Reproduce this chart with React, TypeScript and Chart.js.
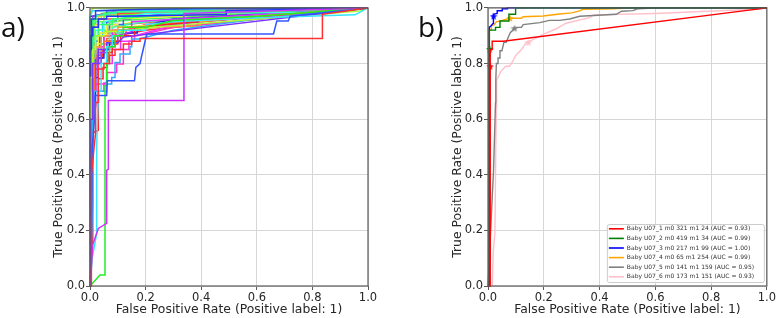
import React, { useEffect, useRef } from "react";
import { Chart, registerables } from "chart.js";

Chart.register(...registerables);

type P = [number, number];

// ---------- shared axis text ----------
const axisTicks = [0, 0.2, 0.4, 0.6, 0.8, 1.0];
const xTitle = "False Positive Rate (Positive label: 1)";
const yTitle = "True Positive Rate (Positive label: 1)";

// ---------- panel a: many ROC curves (fpr, tpr) ----------
const aCurves: P[][] = [
  [[0,0],[0.005,0],[0.005,0.4],[0.02,0.55],[0.02,0.66],[0.03,0.66],[0.03,0.78],[0.05,0.78],[0.05,0.8],[0.07,0.8],[0.07,0.83],[0.09,0.83],[0.09,0.85],[0.12,0.85],[0.12,0.87],[0.15,0.87],[0.15,0.88],[0.18,0.88],[0.18,0.89],[0.836,0.89],[0.836,0.977],[1,1]],
  [[0,0],[0.01,0.15],[0.03,0.207],[0.06,0.225],[0.06,0.416],[0.066,0.42],[0.066,0.667],[0.338,0.667],[0.338,0.98],[1,1]],
  [[0,0],[0.004,0.1],[0.008,0.5],[0.018,0.62],[0.018,0.685],[0.06,0.685],[0.062,0.738],[0.16,0.738],[0.165,0.786],[0.18,0.8],[0.186,0.828],[0.2,0.888],[0.205,0.906],[0.66,0.906],[0.672,0.953],[0.713,0.953],[0.72,0.97],[1,1]],
  [[0,0],[0.036,0.04],[0.054,0.04],[0.054,0.72],[0.06,0.72],[0.06,0.8],[0.07,0.8],[0.07,0.86],[0.09,0.86],[0.09,0.9],[0.12,0.9],[0.12,0.93],[0.2,0.93],[0.3,0.955],[0.6,0.97],[1,1]],
  [[0,0],[0.008,0.1],[0.024,0.19],[0.024,0.5],[0.03,0.7],[0.04,0.7],[0.04,0.8],[0.06,0.8],[0.06,0.86],[0.08,0.86],[0.08,0.9],[0.1,0.9],[0.1,0.92],[0.2,0.92],[0.2,0.94],[0.3,0.95],[0.6,0.965],[0.953,0.975],[1,1]],
  [[0,0],[0.003,0],[0.003,0.6],[0.01,0.6],[0.01,0.8],[0.03,0.8],[0.03,0.85],[0.06,0.85],[0.06,0.875],[0.1,0.875],[0.12,0.895],[1,1]],
  [[0,0],[0.002,0.5],[0.002,0.75],[0.01,0.75],[0.01,0.85],[0.02,0.85],[0.02,0.9],[0.05,0.9],[0.05,0.915],[0.1,0.915],[0.25,0.932],[0.97,0.989],[1,1]],
  [[0,0],[0.01,0.3],[0.01,0.6],[0.015,0.6],[0.015,0.7],[0.06,0.7],[0.06,0.726],[0.078,0.726],[0.078,0.75],[0.09,0.75],[0.09,0.804],[0.108,0.804],[0.108,0.834],[0.144,0.834],[0.144,0.86],[0.15,0.86],[0.15,0.888],[0.174,0.888],[0.204,0.895],[0.3,0.92],[0.6,0.96],[1,1]],
  [[0,0],[0.005,0.4],[0.005,0.7],[0.01,0.7],[0.01,0.82],[0.02,0.82],[0.02,0.86],[0.04,0.86],[0.04,0.9],[0.07,0.9],[0.07,0.92],[0.1,0.92],[0.1,0.93],[0.15,0.93],[0.396,0.935],[0.396,0.95],[0.6,0.97],[1,1]],
  [[0,0],[0.004,0.5],[0.004,0.65],[0.01,0.65],[0.01,0.7],[0.02,0.7],[0.02,0.726],[0.06,0.726],[0.06,0.768],[0.096,0.768],[0.096,0.798],[0.12,0.798],[0.12,0.85],[0.14,0.85],[0.14,0.88],[0.15,0.88],[0.15,0.9],[0.17,0.9],[0.3,0.93],[1,1]],
  [[0,0],[0.01,0.55],[0.03,0.56],[0.03,0.745],[0.047,0.745],[0.047,0.786],[0.06,0.786],[0.06,0.81],[0.065,0.81],[0.065,0.84],[0.08,0.84],[0.08,0.86],[0.09,0.86],[0.09,0.88],[0.11,0.88],[0.11,0.9],[0.16,0.9],[0.16,0.93],[0.5,0.96],[1,1]],
  [[0,0],[0.002,0.7],[0.002,0.85],[0.005,0.85],[0.005,0.9],[0.01,0.9],[0.01,0.93],[0.03,0.93],[0.03,0.96],[0.06,0.96],[0.06,0.97],[0.1,0.97],[0.49,0.976],[0.49,0.99],[1,1]],
  [[0,0],[0.001,0.9],[0.005,0.9],[0.005,0.96],[0.02,0.96],[0.02,0.99],[0.2,0.995],[0.45,0.998],[1,1]],
  [[0,0],[0.003,0.8],[0.01,0.8],[0.01,0.9],[0.03,0.9],[0.03,0.94],[0.08,0.94],[0.08,0.96],[0.3,0.975],[1,1]],
  [[0,0],[0.002,0.3],[0.004,0.7],[0.01,0.7],[0.01,0.88],[0.02,0.88],[0.02,0.92],[0.05,0.92],[0.05,0.95],[0.2,0.98],[0.9,0.985],[1,1]],
  [[0,0],[0.003,0.75],[0.01,0.75],[0.01,0.86],[0.03,0.86],[0.03,0.9],[0.06,0.9],[0.06,0.94],[0.1,0.94],[0.1,0.96],[0.3,0.97],[0.7,0.99],[1,1]],
  [[0,0],[0.001,0.9],[0.006,0.9],[0.006,0.95],[0.02,0.95],[0.02,0.97],[0.1,0.985],[0.5,0.99],[1,1]],
  [[0,0],[0.004,0.65],[0.015,0.65],[0.015,0.8],[0.03,0.8],[0.03,0.85],[0.05,0.85],[0.05,0.88],[0.09,0.88],[0.09,0.92],[0.25,0.93],[0.25,0.94],[0.3,0.945],[1,1]],
  [[0,0],[0.005,0.6],[0.01,0.6],[0.01,0.75],[0.02,0.75],[0.02,0.8],[0.04,0.8],[0.04,0.84],[0.06,0.84],[0.06,0.86],[0.08,0.86],[0.08,0.88],[0.1,0.88],[0.1,0.9],[0.2,0.93],[0.4,0.95],[1,1]],
  [[0,0],[0.007,0.48],[0.012,0.52],[0.012,0.64],[0.02,0.64],[0.02,0.66],[0.03,0.66],[0.03,0.7],[0.05,0.7],[0.05,0.73],[0.06,0.73],[0.06,0.8],[0.08,0.8],[0.08,0.85],[0.11,0.85],[0.11,0.88],[0.16,0.88],[0.16,0.9],[0.35,0.95],[1,1]],
  [[0,0],[0.002,0.85],[0.01,0.85],[0.01,0.93],[0.03,0.93],[0.03,0.96],[0.1,0.96],[0.1,0.98],[0.4,0.99],[1,1]],
  [[0,0],[0.001,0.6],[0.003,0.88],[0.015,0.88],[0.015,0.95],[0.05,0.95],[0.05,0.97],[0.2,0.98],[1,1]],
  [[0,0],[0.004,0.8],[0.02,0.8],[0.02,0.88],[0.04,0.88],[0.04,0.9],[0.07,0.9],[0.07,0.94],[0.12,0.94],[0.12,0.96],[0.25,0.975],[0.5,0.98],[1,1]],
  [[0,0],[0,0.97],[0.01,0.99],[1,1]],
  [[0,0],[0.006,0.7],[0.02,0.7],[0.02,0.82],[0.03,0.82],[0.03,0.86],[0.05,0.86],[0.05,0.9],[0.08,0.9],[0.08,0.92],[0.15,0.92],[0.15,0.95],[0.5,0.97],[1,1]],
  [[0,0],[0.003,0.78],[0.008,0.78],[0.008,0.84],[0.02,0.84],[0.02,0.87],[0.04,0.87],[0.04,0.9],[0.1,0.9],[0.1,0.93],[0.25,0.94],[0.9,0.99],[1,1]],
  [[0,0],[0.004,0.72],[0.015,0.72],[0.015,0.78],[0.03,0.78],[0.03,0.84],[0.06,0.84],[0.06,0.88],[0.09,0.88],[0.09,0.9],[0.13,0.9],[0.13,0.92],[0.2,0.94],[1,1]],
  [[0,0],[0,0.5],[0.005,0.92],[0.01,0.92],[0.01,0.96],[0.05,0.96],[0.05,0.98],[0.15,0.99],[1,1]],
  [[0,0],[0.003,0.55],[0.008,0.55],[0.008,0.65],[0.02,0.65],[0.02,0.75],[0.03,0.75],[0.03,0.82],[0.05,0.82],[0.05,0.85],[0.07,0.85],[0.07,0.88],[0.09,0.88],[0.09,0.9],[0.13,0.9],[0.13,0.91],[0.17,0.91],[0.17,0.93],[0.3,0.96],[1,1]],
  [[0,0],[0.002,0.9],[0.008,0.9],[0.008,0.94],[0.03,0.94],[0.03,0.97],[0.15,0.98],[0.3,0.985],[1,1]],
  [[0,0],[0.005,0.62],[0.01,0.62],[0.01,0.72],[0.02,0.72],[0.02,0.8],[0.04,0.8],[0.04,0.87],[0.07,0.87],[0.07,0.91],[0.12,0.91],[0.12,0.94],[0.3,0.96],[0.8,0.98],[1,1]],
  [[0,0],[0.006,0.12],[0.01,0.17],[0.01,0.7],[0.02,0.7],[0.02,0.78],[0.03,0.78],[0.03,0.82],[0.045,0.82],[0.045,0.85],[0.07,0.85],[0.07,0.87],[0.1,0.87],[0.1,0.9],[0.2,0.92],[1,1]],
  [[0,0],[0.002,0.92],[0.01,0.92],[0.01,0.97],[0.1,0.99],[1,1]],
  [[0,0],[0.002,0.62],[0.004,0.8],[0.015,0.8],[0.015,0.88],[0.03,0.88],[0.03,0.92],[0.07,0.92],[0.07,0.95],[0.2,0.96],[0.5,0.975],[1,1]],
  [[0,0],[0,0.7],[0.004,0.94],[0.02,0.94],[0.02,0.975],[0.3,0.985],[1,1]],
  [[0,0],[0,0.965],[0.004,0.97],[0.06,0.975],[0.06,0.99],[0.3,0.995],[1,1]],
  [[0,0],[0,0.8],[0.002,0.98],[0.01,1],[1,1]],
  [[0,0],[0.003,0.6],[0.003,0.72],[0.012,0.72],[0.012,0.8],[0.025,0.8],[0.025,0.83],[0.04,0.83],[0.04,0.87],[0.06,0.87],[0.06,0.89],[0.085,0.89],[0.085,0.91],[0.12,0.91],[0.12,0.94],[0.35,0.96],[1,1]],
  [[0,0],[0.001,0.5],[0.008,0.5],[0.008,0.68],[0.015,0.68],[0.015,0.76],[0.028,0.76],[0.028,0.83],[0.05,0.83],[0.05,0.88],[0.08,0.88],[0.08,0.93],[0.2,0.95],[1,1]],
  [[0,0],[0.002,0.45],[0.002,0.66],[0.01,0.66],[0.01,0.76],[0.02,0.76],[0.02,0.86],[0.035,0.86],[0.035,0.9],[0.06,0.9],[0.06,0.95],[0.15,0.96],[0.15,0.97],[1,1]],
  [[0,0],[0.004,0.7],[0.004,0.82],[0.016,0.82],[0.016,0.88],[0.035,0.88],[0.035,0.91],[0.07,0.91],[0.07,0.93],[0.16,0.95],[0.5,0.97],[1,1]],
  [[0,0],[0.008,0.56],[0.008,0.7],[0.015,0.7],[0.015,0.8],[0.03,0.8],[0.03,0.86],[0.05,0.86],[0.05,0.9],[0.09,0.9],[0.12,0.92],[0.4,0.95],[1,1]],
  [[0,0],[0.002,0.68],[0.002,0.78],[0.008,0.78],[0.008,0.86],[0.02,0.86],[0.02,0.9],[0.045,0.9],[0.045,0.95],[0.1,0.95],[0.1,0.97],[0.6,0.985],[1,1]],
  [[0,0],[0.001,0.88],[0.006,0.88],[0.006,0.93],[0.015,0.93],[0.015,0.96],[0.04,0.96],[0.04,0.98],[0.3,0.99],[1,1]],
];

const aColors: string[] = [
  "#ff3030", "#cc33ff", "#3355ff", "#22ee22", "#33e6ff", "#7a33ff", "#aaff33",
  "#33aaff", "#ff9933", "#ff33cc", "#ff2222", "#2233ff", "#2244dd", "#33ff66",
  "#33ffee", "#ffee33", "#33ff99", "#ff7722", "#aa33ff", "#ee33ff", "#ff4444",
  "#66ff33", "#3366ff", "#33ddff", "#dd33ff", "#ddff33", "#ff3399", "#33ff33",
  "#2222ee", "#ffbb33", "#33ffcc", "#ff3333", "#9933ff", "#55ee55", "#33bbff",
  "#2233cc", "#99ee22", "#ff5522", "#33ffaa", "#4433ff", "#ffdd22", "#ff22ee",
  "#22ccff", "#88ff22",
];

// ---------- panel b: six babies ----------
const bLabels = [
  "Baby U07_1 m0 321 m1 24 (AUC = 0.93)",
  "Baby U07_2 m0 419 m1 34 (AUC = 0.99)",
  "Baby U07_3 m0 217 m1 99 (AUC = 1.00)",
  "Baby U07_4 m0 65 m1 254 (AUC = 0.99)",
  "Baby U07_5 m0 141 m1 159 (AUC = 0.95)",
  "Baby U07_6 m0 173 m1 151 (AUC = 0.93)",
];
const bColors = ["#ff0000", "#008000", "#0000ff", "#ffa500", "#808080", "#ffc0cb"];

const b1: P[] = [[0,0],[0.008,0],[0.008,0.79],[0.008,0.85],[0.015,0.85],[0.015,0.88],[0.055,0.88],[1,1]];
const b2: P[] = [[0,0],[0.005,0],[0.005,0.85],[0.005,0.92],[0.027,0.92],[0.027,0.93],[0.043,0.93],[0.043,0.953],[0.075,0.953],[0.075,0.977],[0.099,0.977],[0.099,1],[1,1]];
const b3: P[] = [[0,0],[0.004,0],[0.004,0.84],[0.005,0.93],[0.01,0.935],[0.019,0.945],[0.019,0.965],[0.02,0.977],[0.033,0.98],[0.033,0.99],[0.051,0.99],[0.051,0.997],[0.07,0.997],[0.07,1],[1,1]];
const b4: P[] = [[0,0],[0.003,0],[0.003,0.92],[0.012,0.92],[0.012,0.935],[0.022,0.94],[0.03,0.95],[0.05,0.955],[0.079,0.963],[0.12,0.963],[0.126,0.968],[0.198,0.971],[0.257,0.978],[0.3,0.982],[0.329,0.989],[0.34,0.995],[0.45,0.997],[0.52,1],[1,1]];
const b5: P[] = [[0,0],[0.003,0],[0.02,0.42],[0.027,0.66],[0.028,0.74],[0.03,0.8],[0.036,0.8],[0.036,0.82],[0.043,0.82],[0.043,0.846],[0.05,0.846],[0.057,0.876],[0.065,0.876],[0.075,0.9],[0.08,0.911],[0.095,0.927],[0.1,0.93],[0.12,0.93],[0.126,0.94],[0.186,0.947],[0.22,0.955],[0.257,0.955],[0.293,0.96],[0.329,0.97],[0.46,0.977],[0.479,0.988],[0.52,0.99],[0.536,0.997],[0.614,1],[1,1]];
const b6: P[] = [[0,0],[0.015,0],[0.019,0.12],[0.025,0.2],[0.028,0.5],[0.03,0.64],[0.031,0.74],[0.045,0.77],[0.063,0.79],[0.077,0.79],[0.09,0.81],[0.1,0.83],[0.12,0.85],[0.138,0.876],[0.16,0.885],[0.2,0.906],[0.245,0.925],[0.28,0.945],[0.364,0.965],[0.38,0.975],[0.6,0.98],[0.83,0.99],[0.97,0.995],[1,1]];
const bCurves: P[][] = [b1, b2, b3, b4, b5, b6];
const bStars: P[] = [[0.008,0.79],[0.006,0.852],[0.02,0.97],[0.079,0.963],[0.095,0.927],[0.145,0.876]];

// ---------- helpers ----------
const TEXT = "#262626";
const FONT = "'DejaVu Sans', sans-serif";

function starImage(color: string, size: number) {
  const c = document.createElement("canvas");
  c.width = size;
  c.height = size;
  const ctx = c.getContext("2d")!;
  const cx = size / 2, cy = size / 2 + 0.4, R = size / 2, r = R * 0.42;
  ctx.beginPath();
  for (let i = 0; i < 10; i++) {
    const ang = -Math.PI / 2 + (i * Math.PI) / 5;
    const rad = i % 2 === 0 ? R : r;
    ctx.lineTo(cx + rad * Math.cos(ang), cy + rad * Math.sin(ang));
  }
  ctx.closePath();
  ctx.fillStyle = color;
  ctx.fill();
  return c;
}

const framePlugin = {
  id: "frame",
  afterDatasetsDraw(chart: any) {
    const { ctx, chartArea: a } = chart;
    ctx.save();
    ctx.strokeStyle = "#5a5a5a";
    ctx.lineWidth = 1.2;
    ctx.strokeRect(a.left, a.top, a.right - a.left, a.bottom - a.top);
    ctx.restore();
  },
};

const legendPlugin = {
  id: "babyLegend",
  afterDraw(chart: any) {
    const { ctx, chartArea: a } = chart;
    const w = 157, h = 58;
    const x0 = a.right - 3 - w;
    const y0 = a.bottom - 4 - h;
    ctx.save();
    ctx.fillStyle = "rgba(255,255,255,0.85)";
    ctx.strokeStyle = "#cccccc";
    ctx.lineWidth = 1;
    ctx.beginPath();
    (ctx as any).roundRect ? (ctx as any).roundRect(x0 + 0.5, y0 + 0.5, w, h, 2) : ctx.rect(x0 + 0.5, y0 + 0.5, w, h);
    ctx.fill();
    ctx.stroke();
    ctx.font = `6px ${FONT}`;
    ctx.textBaseline = "middle";
    bLabels.forEach((lab, i) => {
      const y = y0 + 4.8 + i * 9.6;
      ctx.strokeStyle = bColors[i];
      ctx.lineWidth = 1.6;
      ctx.beginPath();
      ctx.moveTo(x0 + 2, y);
      ctx.lineTo(x0 + 17, y);
      ctx.stroke();
      ctx.fillStyle = "#333";
      ctx.fillText(lab, x0 + 20, y);
    });
    ctx.restore();
  },
};

function makeScales(yWidth: number) {
  const tickFont = { family: FONT, size: 11.5 };
  const titleFont = { family: FONT, size: 12.4 };
  const common = {
    type: "linear" as const,
    min: 0,
    max: 1,
    grid: { color: "#d6d6d6", lineWidth: 1, tickLength: 4, tickColor: "#5a5a5a", drawTicks: true },
    border: { display: false },
    ticks: {
      stepSize: 0.2,
      font: tickFont,
      color: TEXT,
      padding: 1,
      maxRotation: 0,
      autoSkip: false,
      callback: (v: any) => Number(v).toFixed(1),
    },
  };
  return {
    x: {
      ...common,
      afterBuildTicks: (s: any) => { s.ticks = axisTicks.map((v) => ({ value: v })); },
      title: { display: true, text: xTitle, font: titleFont, color: TEXT, padding: { top: 0, bottom: 1 } },
      afterFit: (s: any) => { s.height = 32; },
    },
    y: {
      ...common,
      afterBuildTicks: (s: any) => { s.ticks = axisTicks.map((v) => ({ value: v })); },
      title: { display: true, text: yTitle, font: titleFont, color: TEXT, padding: { top: 5, bottom: 0 } },
      afterFit: (s: any) => { s.width = yWidth; },
    },
  };
}

function lineDataset(pts: P[], color: string, width: number) {
  return {
    data: pts.map(([x, y]) => ({ x, y })),
    showLine: true,
    borderColor: color,
    backgroundColor: color,
    borderWidth: width,
    pointRadius: 0,
    fill: false,
    tension: 0,
    clip: false as any,
  };
}

export default function App() {
  const refA = useRef<HTMLCanvasElement>(null);
  const refB = useRef<HTMLCanvasElement>(null);

  useEffect(() => {
    const chartA = new Chart(refA.current!, {
      type: "scatter",
      data: {
        datasets: aCurves.map((c, i) => lineDataset(c, aColors[i % aColors.length], 1.5)),
      },
      options: {
        animation: false,
        responsive: false,
        devicePixelRatio: 1,
        events: [],
        layout: { padding: { left: 46, right: 20, top: 7, bottom: 0 } },
        plugins: { legend: { display: false }, tooltip: { enabled: false } },
        scales: makeScales(44) as any,
      },
      plugins: [framePlugin],
    });

    const starSets = bStars.map(([x, y], i) => ({
      data: [{ x, y }],
      showLine: false,
      pointStyle: starImage(bColors[i], 8),
      pointRadius: 4,
      clip: false as any,
    }));

    const chartB = new Chart(refB.current!, {
      type: "scatter",
      data: {
        datasets: [
          ...bCurves.map((c, i) => lineDataset(c, bColors[i], 1.4)),
          ...starSets,
        ] as any,
      },
      options: {
        animation: false,
        responsive: false,
        devicePixelRatio: 1,
        events: [],
        layout: { padding: { left: 55, right: 9, top: 7, bottom: 0 } },
        plugins: { legend: { display: false }, tooltip: { enabled: false } },
        scales: makeScales(43) as any,
      },
      plugins: [framePlugin, legendPlugin],
    });

    return () => {
      chartA.destroy();
      chartB.destroy();
    };
  }, []);

  const labelStyle: React.CSSProperties = {
    position: "absolute",
    fontFamily: "'Open Sans', sans-serif",
    fontSize: 28,
    lineHeight: "28px",
    color: "#111",
  };

  return (
    <div style={{ position: "absolute", left: 0, top: 0, width: 777, height: 318, background: "#fff", overflow: "hidden" }}>
      <canvas ref={refA} width={388} height={318} style={{ position: "absolute", left: 0, top: 0, width: 388, height: 318 }} />
      <canvas ref={refB} width={387} height={318} style={{ position: "absolute", left: 390, top: 0, width: 387, height: 318 }} />
      <div style={{ ...labelStyle, left: 1, top: 12 }}>a)</div>
      <div style={{ ...labelStyle, left: 418, top: 12 }}>b)</div>
    </div>
  );
}
